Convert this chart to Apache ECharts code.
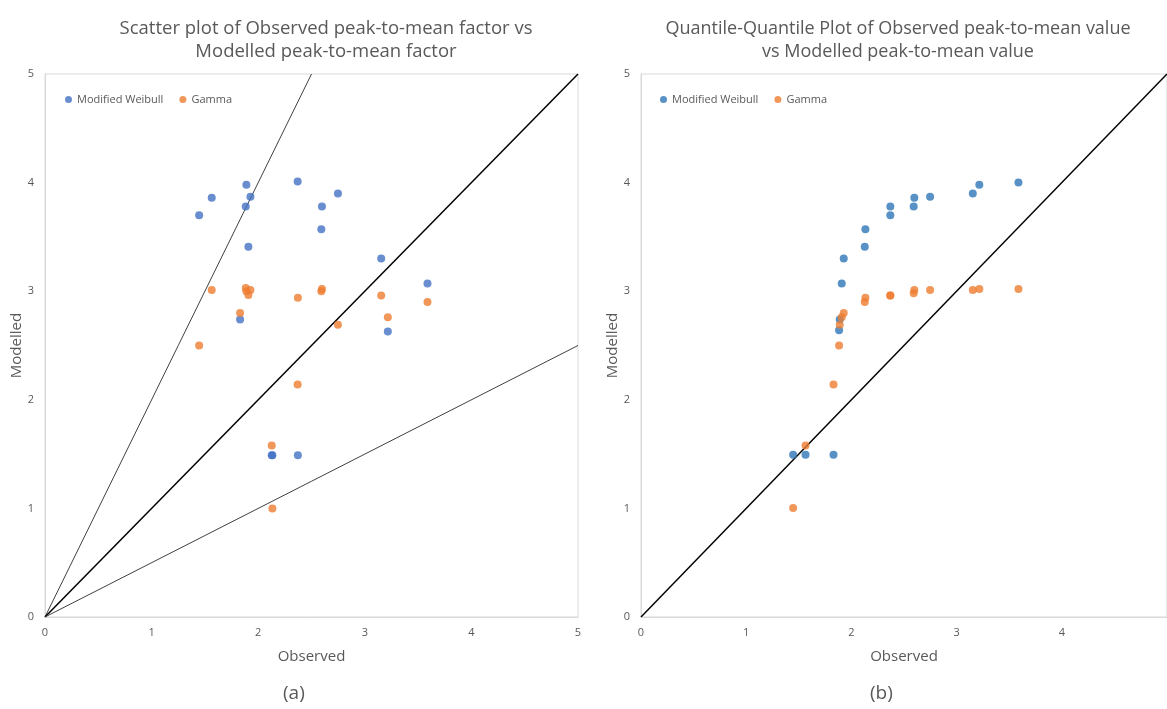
<!DOCTYPE html>
<html lang="en">
<head>
<meta charset="utf-8">
<title>Observed vs Modelled peak-to-mean</title>
<style>
  html, body { margin: 0; padding: 0; background: #fff; }
  #main { width: 1167px; height: 709px; }
</style>
</head>
<body>
<div id="main"></div>
<script src="https://cdn.jsdelivr.net/npm/echarts@6/dist/echarts.min.js"></script>
<script>
// (a) scatter: observed peak-to-mean factor and the two models
var observed = [1.446, 1.564, 1.830, 1.883, 1.889, 1.908, 1.927, 2.127, 2.133, 2.370, 2.372, 2.592, 2.598, 2.748, 3.154, 3.216, 3.588];
var weibull  = [3.70, 3.86, 2.74, 3.78, 3.98, 3.41, 3.87, 1.49, 1.49, 4.01, 1.49, 3.57, 3.78, 3.90, 3.30, 2.63, 3.07];
var gamma    = [2.50, 3.01, 2.80, 3.03, 3.00, 2.965, 3.01, 1.58, 1.00, 2.14, 2.94, 3.00, 3.02, 2.69, 2.96, 2.76, 2.90];

// (b) Q-Q plot
var qqObserved = [1.446, 1.564, 1.830, 1.883, 1.889, 1.908, 1.927, 2.127, 2.133, 2.370, 2.370, 2.592, 2.598, 2.748, 3.154, 3.216, 3.588];
var qqWeibull  = [1.495, 1.495, 1.495, 2.64, 2.74, 3.07, 3.30, 3.41, 3.57, 3.70, 3.78, 3.78, 3.86, 3.87, 3.90, 3.98, 4.00];
var qqGamma    = [1.004, 1.58, 2.14, 2.50, 2.69, 2.76, 2.80, 2.90, 2.94, 2.96, 2.96, 2.98, 3.01, 3.01, 3.01, 3.02, 3.02];

// reference lines y = k*x
var refSlopes = [2, 1, 0.5];
var axisMax = 5;

var grey = '#595959';
var font = 'Open Sans';

function pairs(xs, ys) {
  return xs.map(function (x, i) { return [x, ys[i]]; });
}

function refLine(k) {
  var xEnd = Math.min(axisMax, axisMax / k);
  return [[0, 0], [xEnd, k * xEnd]];
}

function xAxisOf(idx) {
  return {
    gridIndex: idx, type: 'value', min: 0, max: 5, interval: 1,
    name: 'Observed', nameLocation: 'middle', nameGap: 32,
    nameTextStyle: { color: grey, fontSize: 15, fontFamily: font },
    axisLine: { show: true, lineStyle: { color: '#d9d9d9' } },
    axisTick: { show: false },
    axisLabel: { color: grey, fontSize: 11, fontFamily: font, margin: 10, showMaxLabel: idx === 0 },
    splitLine: { show: false }
  };
}

function yAxisOf(idx) {
  return {
    gridIndex: idx, type: 'value', min: 0, max: 5, interval: 1,
    name: 'Modelled', nameLocation: 'middle', nameGap: 21,
    nameTextStyle: { color: grey, fontSize: 15, fontFamily: font },
    axisLine: { show: true, lineStyle: { color: '#d9d9d9' } },
    axisTick: { show: false },
    axisLabel: { color: grey, fontSize: 11, fontFamily: font, margin: 11 },
    splitLine: { show: false }
  };
}

var series = [];

refSlopes.forEach(function (k) {
  series.push({
    type: 'line', xAxisIndex: 0, yAxisIndex: 0, data: refLine(k),
    symbol: 'none', silent: true, z: 1,
    lineStyle: { color: k === 1 ? '#000' : '#404040', width: k === 1 ? 1.5 : 1 }
  });
});
series.push({
  type: 'line', xAxisIndex: 1, yAxisIndex: 1, data: refLine(1),
  symbol: 'none', silent: true, z: 1,
  lineStyle: { color: '#000', width: 1.5 }
});

series.push({ name: 'Modified Weibull', type: 'scatter', xAxisIndex: 0, yAxisIndex: 0,
  data: pairs(observed, weibull), symbolSize: 8, itemStyle: { color: '#4472C4' } });
series.push({ name: 'Gamma', type: 'scatter', xAxisIndex: 0, yAxisIndex: 0,
  data: pairs(observed, gamma), symbolSize: 8, itemStyle: { color: '#ED7D31' } });
series.push({ name: 'Modified Weibull', type: 'scatter', xAxisIndex: 1, yAxisIndex: 1,
  data: pairs(qqObserved, qqWeibull), symbolSize: 8, itemStyle: { color: '#2E75B6' } });
series.push({ name: 'Gamma', type: 'scatter', xAxisIndex: 1, yAxisIndex: 1,
  data: pairs(qqObserved, qqGamma), symbolSize: 8, itemStyle: { color: '#ED7D31' } });

function legendAt(left, blue) {
  return {
    left: left, top: 89, itemWidth: 7, itemHeight: 7, itemGap: 16,
    icon: 'circle',
    textStyle: { color: grey, fontSize: 11, fontFamily: font },
    data: [
      { name: 'Modified Weibull', itemStyle: { color: blue } },
      { name: 'Gamma', itemStyle: { color: '#ED7D31' } }
    ]
  };
}

var myChart = echarts.init(document.getElementById('main'));
var option = {
  backgroundColor: '#fff',
  animation: false,
  title: [
    { text: 'Scatter plot of Observed peak-to-mean factor vs\nModelled peak-to-mean factor',
      left: 321, top: 12, textAlign: 'center',
      textStyle: { color: grey, fontSize: 18.5, fontWeight: 'normal', fontFamily: font, lineHeight: 23 } },
    { text: 'Quantile-Quantile Plot of Observed peak-to-mean value\nvs Modelled peak-to-mean value',
      left: 893, top: 12, textAlign: 'center',
      textStyle: { color: grey, fontSize: 18, fontWeight: 'normal', fontFamily: font, lineHeight: 23 } }
  ],
  legend: [legendAt(60, '#4472C4'), legendAt(655, '#2E75B6')],
  grid: [
    { left: 45, right: 589, top: 74, bottom: 92, show: true, borderColor: '#d9d9d9', borderWidth: 1 },
    { left: 641, right: -8, top: 74, bottom: 92, show: true, borderColor: '#d9d9d9', borderWidth: 1 }
  ],
  xAxis: [xAxisOf(0), xAxisOf(1)],
  yAxis: [yAxisOf(0), yAxisOf(1)],
  graphic: [
    { type: 'text', left: 283, top: 684, style: { text: '(a)', fill: grey, fontSize: 19, fontFamily: font } },
    { type: 'text', left: 870, top: 684, style: { text: '(b)', fill: grey, fontSize: 19, fontFamily: font } }
  ],
  series: series
};
myChart.setOption(option);
</script>
</body>
</html>
